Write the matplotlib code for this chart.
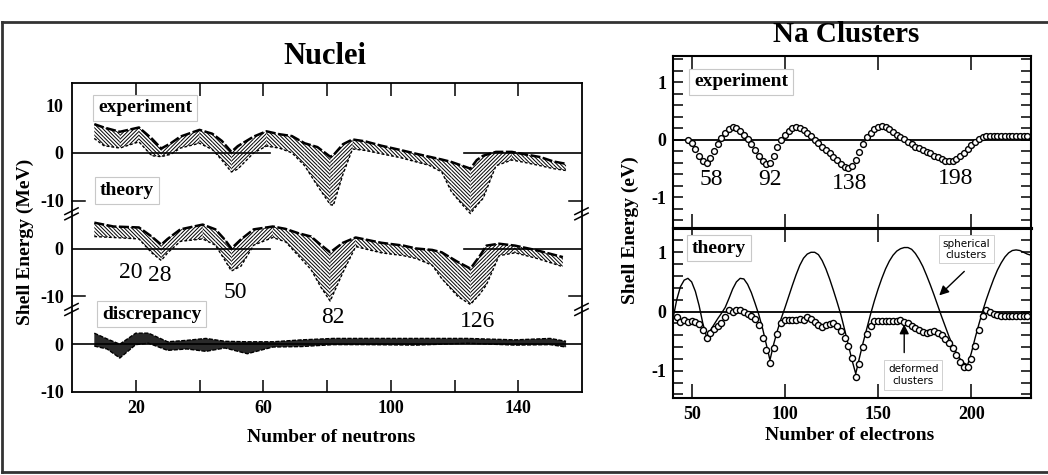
import numpy as np
import matplotlib
matplotlib.use("Agg")
import matplotlib.pyplot as plt
from matplotlib.lines import Line2D
from matplotlib.ticker import MultipleLocator, FixedLocator
import matplotlib.transforms as mtransforms

# ---------------- Nuclei: shell energy bands (MeV) vs neutron number ----------------
exp_n  = [7, 10, 15, 21, 25, 28, 31, 34, 40, 44, 47, 50, 52, 57, 61, 65, 69, 73, 77, 81,
          82, 85, 88, 92, 97, 103, 108, 112, 116, 119, 122, 125, 127, 129, 133, 138, 142,
          147, 151, 155]
exp_hi = [6.0, 5.3, 4.4, 5.3, 3.0, 0.9, 2.0, 3.4, 4.8, 4.0, 2.5, 0.2, 1.4, 3.4, 4.5, 3.9,
          3.5, 2.0, 1.2, -0.8, -0.5, 1.8, 2.8, 2.4, 1.5, 0.6, -0.2, -0.8, -1.4, -1.9, -2.6,
          -3.3, -1.5, -0.6, 0.2, 0.2, -0.3, -0.9, -1.8, -2.3]
exp_lo = [3.0, 1.5, 1.0, 2.3, -0.6, -0.8, -0.3, 1.0, 2.0, 0.7, -1.5, -4.0, -3.4, 0.0, 1.4,
          1.0, 0.0, -2.7, -6.9, -10.8, -11.0, -4.5, 0.8, 0.5, -0.2, -1.0, -1.9, -2.6, -4.0,
          -8.1, -10.5, -12.7, -11.0, -9.5, -2.7, -1.5, -2.0, -2.7, -3.3, -3.7]

th_n  = [7, 13, 21, 25, 28, 30, 34, 41, 45, 48, 50, 53, 57, 63, 67, 71, 75, 78, 81, 85,
         89, 97, 104, 108, 113, 116, 121, 125, 128, 130, 134, 139, 146, 154]
th_hi = [5.4, 4.6, 4.4, 2.5, 0.8, 2.0, 4.0, 5.0, 4.0, 1.8, 0.0, 1.9, 4.0, 4.6, 4.1, 3.2,
         2.5, 0.8, -0.8, 1.2, 2.3, 1.2, 0.6, 0.0, -0.3, -0.8, -2.8, -4.2, -1.5, 0.6, 1.0,
         0.6, -0.4, -1.8]
th_lo = [2.5, 2.3, 2.0, -0.9, -2.5, -0.9, 1.5, 2.0, 0.7, -2.5, -4.7, -3.7, 0.7, 2.3, 1.4,
         -1.5, -4.4, -8.0, -11.0, -5.0, 0.4, -0.9, -1.5, -2.1, -3.5, -6.3, -10.0, -11.7,
         -9.5, -7.6, -1.5, -0.9, -2.1, -3.8]

disc_n  = [7, 11, 15, 20, 24, 30, 36, 42, 48, 55, 63, 72, 82, 92, 108, 124, 139, 150, 155]
disc_hi = [2.3, 1.1, 0.0, 2.3, 2.3, 0.5, 0.8, 1.2, 0.6, 0.5, 0.5, 0.9, 1.2, 1.2, 1.2, 1.2,
           0.9, 1.2, 0.6]
disc_lo = [-0.4, -1.0, -2.9, -0.1, 0.2, -1.3, -1.0, -1.5, -0.8, -2.0, -0.6, -0.5, -0.1,
           -0.1, -0.2, 0.2, -0.2, -0.1, -0.6]

nuc_magic = ["20", "28", "50", "82", "126"]
nuc_magic_pos = [(18.5, 15.0), (27.6, 14.4), (51.1, 10.9), (81.7, 5.5), (127.3, 4.8)]
nuc_xticks = [20, 60, 100, 140]
nuc_ytick_pos = [-10, 0, 10, 20, 30, 40, 50]
nuc_ytick_lab = ["-10", "0", "-10", "0", "-10", "0", "10"]
zero_spans = [(0, 62), (123, 160)]

# ---------------- Na clusters: shell energy (eV) vs electron number ----------------
na_exp_e = list(range(48, 232, 2))
na_exp = [0.00, -0.05, -0.16, -0.28, -0.38, -0.40, -0.32, -0.20, -0.08, 0.03,
          0.12, 0.19, 0.22, 0.21, 0.16, 0.09, 0.01, -0.08, -0.18, -0.29,
          -0.38, -0.43, -0.40, -0.28, -0.13, -0.01, 0.08, 0.15, 0.20, 0.23,
          0.21, 0.17, 0.12, 0.06, 0.00, -0.06, -0.12, -0.18, -0.24, -0.30,
          -0.36, -0.42, -0.47, -0.49, -0.46, -0.36, -0.22, -0.08, 0.04, 0.12,
          0.18, 0.22, 0.24, 0.22, 0.18, 0.13, 0.09, 0.05, 0.01, -0.04,
          -0.08, -0.12, -0.15, -0.18, -0.21, -0.24, -0.28, -0.31, -0.34, -0.37,
          -0.38, -0.37, -0.34, -0.29, -0.23, -0.16, -0.10, -0.04, 0.01, 0.05,
          0.07, 0.07, 0.07, 0.07, 0.07, 0.07, 0.07, 0.07, 0.07, 0.07,
          0.07, 0.06]

na_sph_e = list(range(40, 234, 2))
na_sph = [-0.12, 0.20, 0.42, 0.53, 0.56, 0.50, 0.34, 0.10, -0.20, -0.43,
          -0.32, -0.22, -0.12, -0.03, 0.07, 0.22, 0.38, 0.50, 0.56, 0.55,
          0.46, 0.32, 0.14, -0.05, -0.28, -0.55, -0.82, -0.55, -0.32, -0.12,
          0.06, 0.25, 0.44, 0.62, 0.78, 0.90, 0.97, 1.00, 1.00, 0.96,
          0.86, 0.72, 0.55, 0.36, 0.16, -0.05, -0.30, -0.56, -0.82, -1.05,
          -0.78, -0.52, -0.28, -0.04, 0.18, 0.38, 0.56, 0.72, 0.85, 0.95,
          1.02, 1.06, 1.08, 1.08, 1.05, 0.98, 0.88, 0.76, 0.61, 0.45,
          0.28, 0.10, -0.08, -0.25, -0.42, -0.57, -0.70, -0.80, -0.87, -0.90,
          -0.70, -0.45, -0.22, 0.00, 0.20, 0.38, 0.55, 0.70, 0.82, 0.92,
          0.99, 1.03, 1.04, 1.03, 1.00, 0.97, 0.95]

na_def_e = list(range(42, 232, 2))
na_def = [-0.10, -0.17, -0.15, -0.17, -0.16, -0.17, -0.21, -0.32, -0.44, -0.36,
          -0.29, -0.24, -0.20, -0.10, 0.03, 0.00, 0.02, 0.03, 0.00, -0.04,
          -0.08, -0.12, -0.22, -0.45, -0.65, -0.87, -0.62, -0.38, -0.20, -0.15,
          -0.14, -0.14, -0.15, -0.13, -0.14, -0.10, -0.12, -0.17, -0.22, -0.26,
          -0.23, -0.21, -0.20, -0.24, -0.33, -0.45, -0.58, -0.78, -1.10, -0.88,
          -0.60, -0.38, -0.24, -0.16, -0.16, -0.16, -0.16, -0.16, -0.16, -0.16,
          -0.15, -0.17, -0.20, -0.24, -0.27, -0.31, -0.35, -0.37, -0.34, -0.33,
          -0.36, -0.40, -0.46, -0.53, -0.62, -0.74, -0.86, -0.93, -0.93, -0.80,
          -0.58, -0.32, -0.08, 0.03, 0.00, -0.04, -0.06, -0.07, -0.07, -0.08,
          -0.07, -0.07, -0.08, -0.07, -0.07]

na_magic = ["58", "92", "138", "198"]
na_magic_pos = [(60.5, -0.70), (91.8, -0.70), (134.6, -0.76), (191.8, -0.67)]
na_xticks = [50, 100, 150, 200]

# ---------------- figure ----------------
W, H, DPI = 1048, 475, 100
SERIF = ["Liberation Serif", "DejaVu Serif"]
plt.rcParams["font.family"] = SERIF
plt.rcParams["hatch.linewidth"] = 0.7

fig = plt.figure(figsize=(W / DPI, H / DPI), dpi=DPI)
fig.patch.set_facecolor("white")


def fx(px):
    return px / W


def fy(py):
    return 1 - py / H


# outer frame
for (x0, y0, x1, y1) in [(2, 22, 1048, 22), (2, 22, 2, 472), (2, 472, 1048, 472)]:
    fig.add_artist(Line2D([fx(x0), fx(x1)], [fy(y0), fy(y1)], color="#333333", lw=2))

# ---------- Nuclei panel ----------
ax = fig.add_axes([fx(72), fy(392), fx(582) - fx(72), fy(83) - fy(392)])
ax.set_xlim(0, 160)
ax.set_ylim(-10, 54.6)
for s in ax.spines.values():
    s.set_linewidth(1.3)


def band(n, lo, hi, offset, dense=False):
    n = np.asarray(n, float)
    lo = np.asarray(lo, float) + offset
    hi = np.asarray(hi, float) + offset
    if dense:
        ax.fill_between(n, lo, hi, facecolor="#111111", edgecolor="none", alpha=0.9)
        ax.plot(n, hi, color="black", lw=1.0, ls=(0, (3, 1)))
        ax.plot(n, lo, color="black", lw=1.0, ls=(0, (3, 1)))
        return
    mid = (lo + hi) / 2
    for i in range(len(n) - 1):
        hatch = "\\" * 9 if mid[i + 1] < mid[i] else "/" * 9
        ax.fill_between(n[i:i + 2], lo[i:i + 2], hi[i:i + 2], facecolor="none",
                        edgecolor="black", hatch=hatch, linewidth=0)
    ax.plot(n, hi, color="black", lw=1.8, ls=(0, (4, 1)))
    ax.plot(n, lo, color="black", lw=1.0, ls=(0, (2, 1.5)))


band(exp_n, exp_lo, exp_hi, 40)
band(th_n, th_lo, th_hi, 20)
band(disc_n, disc_lo, disc_hi, 0, dense=True)

for off in (40, 20):
    for a, b in zero_spans:
        ax.plot([a, b], [off, off], color="black", lw=1.2)
ax.axhline(0, color="black", lw=1.2)

ax.set_xticks(nuc_xticks)
ax.xaxis.set_minor_locator(FixedLocator([40, 80, 120]))
ax.tick_params(axis="x", which="both", direction="in", top=True, length=9, width=1.1,
               labelsize=13, pad=6)
ax.set_yticks(nuc_ytick_pos)
ax.set_yticklabels(nuc_ytick_lab)
ax.tick_params(axis="y", length=0, labelsize=13, pad=6)
for lab in ax.get_xticklabels() + ax.get_yticklabels():
    lab.set_fontweight("bold")

# break marks at panel junctions
btr = mtransforms.blended_transform_factory(ax.transAxes, ax.transData)
for yb in (10, 30):
    for xs in (0, 1):
        d = 1 if xs == 0 else -1
        ax.plot([xs, xs + d * 0.025], [yb, yb], transform=btr, color="black", lw=1.1,
                clip_on=False)
        for k in (0, 1):
            y0 = yb - 2.9 - 1.1 * k
            ax.plot([xs - 0.014, xs + 0.012], [y0, y0 + 1.4], transform=btr,
                    color="black", lw=1.1, clip_on=False)

box = dict(boxstyle="square,pad=0.25", fc="white", ec="#c8c8c8", lw=0.8)
ax.text(22.9, 49.4, "experiment", ha="center", va="center", fontsize=14,
        fontweight="bold", bbox=box)
ax.text(17.2, 32.2, "theory", ha="center", va="center", fontsize=14,
        fontweight="bold", bbox=box)
ax.text(25.0, 6.3, "discrepancy", ha="center", va="center", fontsize=14,
        fontweight="bold", bbox=box)
for lab, (xx, yy) in zip(nuc_magic, nuc_magic_pos):
    ax.text(xx, yy, lab, ha="center", va="center", fontsize=17)

fig.text(fx(325), fy(57), "Nuclei", ha="center", va="center", fontsize=22,
         fontweight="bold")
fig.text(fx(331), fy(437), "Number of neutrons", ha="center", va="center",
         fontsize=14, fontweight="bold")
fig.text(fx(25), fy(242), "Shell Energy (MeV)", ha="center", va="center",
         fontsize=14, fontweight="bold", rotation=90)

# ---------- Na clusters panels ----------
axt = fig.add_axes([fx(673), fy(228), fx(1031) - fx(673), fy(56) - fy(228)])
axb = fig.add_axes([fx(673), fy(398), fx(1031) - fx(673), fy(228) - fy(398)])
axt.set_ylim(-1.54, 1.46)
axb.set_ylim(-1.46, 1.41)
for a in (axt, axb):
    a.set_xlim(40, 232)
    for s in a.spines.values():
        s.set_linewidth(1.5)
    a.set_xticks(na_xticks)
    a.set_yticks([-1, 0, 1])
    a.set_yticklabels(["-1", "0", "1"])
    a.yaxis.set_minor_locator(MultipleLocator(0.2))
    a.tick_params(axis="x", direction="in", top=True, length=10, width=1.1,
                  labelsize=13, pad=6)
    a.tick_params(axis="y", which="both", direction="in", right=True, length=7,
                  width=1.1, labelsize=13, pad=5)
    a.axhline(0, color="black", lw=1.3)
axt.spines["bottom"].set_linewidth(2.2)
axb.spines["top"].set_linewidth(2.2)
axt.tick_params(axis="x", labelbottom=False)
for a in (axt, axb):
    for lab in a.get_xticklabels() + a.get_yticklabels():
        lab.set_fontweight("bold")

axt.plot(na_exp_e, na_exp, ls="none", marker="o", ms=4.2, mfc="white", mec="black",
         mew=1.0)
axb.plot(na_sph_e, na_sph, color="black", lw=1.0)
axb.plot(na_def_e, na_def, ls="none", marker="o", ms=4.4, mfc="white", mec="black",
         mew=1.0)

for lab, (xx, yy) in zip(na_magic, na_magic_pos):
    axt.text(xx, yy, lab, ha="center", va="center", fontsize=17)

axt.text(0.19, 0.849, "experiment", transform=axt.transAxes, ha="center", va="center",
         fontsize=14, fontweight="bold", bbox=box)
axb.text(0.128, 0.882, "theory", transform=axb.transAxes, ha="center", va="center",
         fontsize=14, fontweight="bold", bbox=box)

small_box = dict(boxstyle="square,pad=0.35", fc="white", ec="#d0d0d0", lw=0.7)
axb.text(197.3, 1.05, "spherical\nclusters", ha="center", va="center", fontsize=7.5,
         family="DejaVu Sans", linespacing=1.1, bbox=small_box)
axb.text(168.9, -1.07, "deformed\nclusters", ha="center", va="center", fontsize=7.5,
         family="DejaVu Sans", linespacing=1.3, bbox=small_box)
axb.annotate("", xy=(181.7, 0.24), xytext=(197.3, 0.71),
             arrowprops=dict(arrowstyle="-|>", color="black", lw=1.0, mutation_scale=14))
axb.annotate("", xy=(164.0, -0.17), xytext=(164.0, -0.74),
             arrowprops=dict(arrowstyle="-|>", color="black", lw=1.0, mutation_scale=14))

fig.text(fx(846), fy(35), "Na Clusters", ha="center", va="center", fontsize=21,
         fontweight="bold")
fig.text(fx(850), fy(436), "Number of electrons", ha="center", va="center",
         fontsize=14, fontweight="bold")
fig.text(fx(630), fy(230), "Shell Energy (eV)", ha="center", va="center",
         fontsize=14, fontweight="bold", rotation=90)

fig.savefig("out.png", dpi=DPI)
